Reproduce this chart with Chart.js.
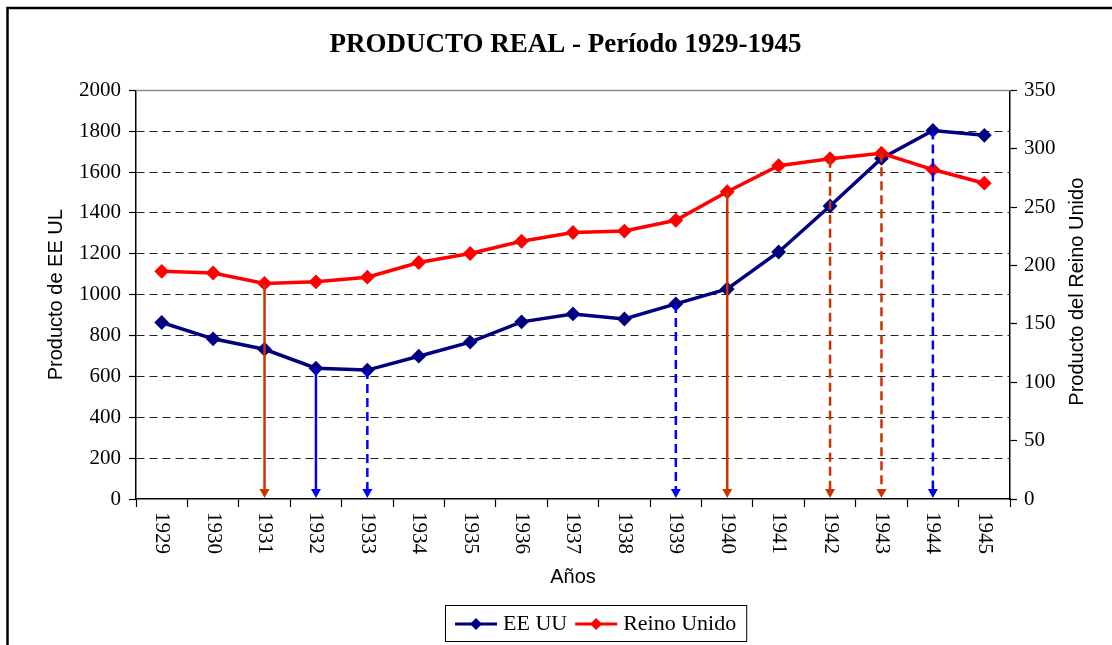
<!DOCTYPE html>
<html>
<head>
<meta charset="utf-8">
<script src="https://cdn.jsdelivr.net/npm/chart.js@4.4.1/dist/chart.umd.min.js"></script>
<style>
html, body { margin: 0; padding: 0; background: #fff; }
#wrap { width: 1112px; height: 645px; }
</style>
</head>
<body>
<div id="wrap"><canvas id="grafico" width="1112" height="645"></canvas></div>
<script>
var anios = ['1929','1930','1931','1932','1933','1934','1935','1936','1937','1938','1939','1940','1941','1942','1943','1944','1945'];
var productoEEUU = [864, 784, 733, 640, 631, 699, 768, 867, 906, 881, 955, 1028, 1209, 1434, 1667, 1804, 1780];
var productoReinoUnido = [195, 193.6, 184.7, 186, 190, 202.6, 210.3, 220.8, 228.3, 229.5, 238.8, 263.2, 285.5, 291.5, 296.2, 282.2, 270.5];

// flechas: [año, punteada]
var flechasEEUU = [['1932', false], ['1933', true], ['1939', true], ['1944', true]];
var flechasReinoUnido = [['1931', false], ['1940', false], ['1942', true], ['1943', true]];

var serif = 'Liberation Serif';
var sans = 'Liberation Sans';

function dibujarFlecha(ctx, x, y0, y1, color, punteada) {
  ctx.save();
  ctx.strokeStyle = color;
  ctx.fillStyle = color;
  ctx.lineWidth = 2.5;
  ctx.setLineDash(punteada ? [9, 5] : []);
  ctx.beginPath();
  ctx.moveTo(x, y0);
  ctx.lineTo(x, y1 - 8);
  ctx.stroke();
  ctx.setLineDash([]);
  ctx.beginPath();
  ctx.moveTo(x - 5, y1 - 10);
  ctx.lineTo(x + 5, y1 - 10);
  ctx.lineTo(x, y1 - 1);
  ctx.closePath();
  ctx.fill();
  ctx.restore();
}

// fondo y marco
var marcoPlugin = {
  id: 'marco',
  beforeDraw: function(chart) {
    var ctx = chart.ctx;
    ctx.save();
    ctx.fillStyle = '#fff';
    ctx.fillRect(0, 0, chart.width, chart.height);
    ctx.strokeStyle = '#000';
    ctx.lineWidth = 2.5;
    ctx.beginPath();
    ctx.moveTo(7.5, chart.height);
    ctx.lineTo(7.5, 8);
    ctx.lineTo(chart.width, 8);
    ctx.stroke();
    ctx.restore();
  },
  beforeDatasetsDraw: function(chart) {
    var a = chart.chartArea, ctx = chart.ctx;
    ctx.save();
    ctx.strokeStyle = '#8a8a8a';
    ctx.lineWidth = 1.5;
    ctx.beginPath();
    ctx.moveTo(a.left, a.top);
    ctx.lineTo(a.right, a.top);
    ctx.stroke();
    ctx.restore();
  }
};

// flechas verticales hacia el eje
var flechasPlugin = {
  id: 'flechas',
  afterDatasetsDraw: function(chart) {
    var ctx = chart.ctx, a = chart.chartArea;
    var x = chart.scales.x, y = chart.scales.y, y1 = chart.scales.y1;
    flechasReinoUnido.forEach(function(f) {
      var i = anios.indexOf(f[0]);
      dibujarFlecha(ctx, x.getPixelForValue(i), y1.getPixelForValue(productoReinoUnido[i]), a.bottom, '#cc3300', f[1]);
    });
    flechasEEUU.forEach(function(f) {
      var i = anios.indexOf(f[0]);
      dibujarFlecha(ctx, x.getPixelForValue(i), y.getPixelForValue(productoEEUU[i]), a.bottom, '#0000ff', f[1]);
    });
  }
};

// etiquetas de años giradas, titulo derecho y leyenda
var textosPlugin = {
  id: 'textos',
  afterDraw: function(chart) {
    var ctx = chart.ctx, a = chart.chartArea;
    var x = chart.scales.x;
    ctx.save();
    ctx.fillStyle = '#000';
    ctx.font = '21px "' + serif + '"';
    ctx.textAlign = 'left';
    ctx.textBaseline = 'middle';
    anios.forEach(function(lab, i) {
      ctx.save();
      ctx.translate(x.getPixelForValue(i), a.bottom + 13);
      ctx.rotate(Math.PI / 2);
      ctx.fillText(lab, 0, 0);
      ctx.restore();
    });

    // titulo eje derecho
    ctx.save();
    ctx.font = '20px "' + sans + '"';
    ctx.textAlign = 'center';
    ctx.textBaseline = 'middle';
    ctx.translate(chart.scales.y1.right - 14, (a.top + a.bottom) / 2 - 3);
    ctx.rotate(-Math.PI / 2);
    ctx.fillText('Producto del Reino Unido', 0, 0);
    ctx.restore();

    // leyenda
    var items = [
      { texto: 'EE UU', color: '#000080' },
      { texto: 'Reino Unido', color: '#ff0000' }
    ];
    ctx.font = '22px "' + serif + '"';
    var total = 12;
    items.forEach(function(it) { total += 42 + 6 + ctx.measureText(it.texto).width + 8; });
    var bx = 445, by = 605, bh = 36;
    ctx.strokeStyle = '#000';
    ctx.lineWidth = 1;
    ctx.strokeRect(bx + 0.5, by + 0.5, total, bh);
    var cx = bx + 10, cy = by + bh / 2 + 1;
    items.forEach(function(it) {
      ctx.strokeStyle = it.color;
      ctx.fillStyle = it.color;
      ctx.lineWidth = 3;
      ctx.beginPath();
      ctx.moveTo(cx, cy);
      ctx.lineTo(cx + 42, cy);
      ctx.stroke();
      ctx.beginPath();
      ctx.moveTo(cx + 21 - 6, cy);
      ctx.lineTo(cx + 21, cy - 6);
      ctx.lineTo(cx + 21 + 6, cy);
      ctx.lineTo(cx + 21, cy + 6);
      ctx.closePath();
      ctx.fill();
      ctx.fillStyle = '#000';
      ctx.textAlign = 'left';
      ctx.textBaseline = 'middle';
      ctx.fillText(it.texto, cx + 48, cy);
      cx += 48 + ctx.measureText(it.texto).width + 8;
    });
    ctx.restore();
  }
};

new Chart(document.getElementById('grafico'), {
  type: 'line',
  data: {
    labels: anios,
    datasets: [
      {
        label: 'EE UU',
        data: productoEEUU,
        yAxisID: 'y',
        borderColor: '#000080',
        backgroundColor: '#000080',
        borderWidth: 3.5,
        pointStyle: 'rectRot',
        pointRadius: 6,
        pointBorderWidth: 2,
        tension: 0,
        order: 1
      },
      {
        label: 'Reino Unido',
        data: productoReinoUnido,
        yAxisID: 'y1',
        borderColor: '#ff0000',
        backgroundColor: '#ff0000',
        borderWidth: 3.5,
        pointStyle: 'rectRot',
        pointRadius: 6,
        pointBorderWidth: 2,
        tension: 0,
        order: 0
      }
    ]
  },
  options: {
    responsive: false,
    animation: false,
    layout: { padding: { top: 0, left: 40, right: 21, bottom: 54 } },
    plugins: {
      legend: { display: false },
      tooltip: { enabled: false },
      title: {
        display: true,
        text: 'PRODUCTO REAL - Período 1929-1945',
        color: '#000',
        font: { family: serif, size: 27, weight: 'bold' },
        padding: { top: 29, bottom: 29 }
      }
    },
    scales: {
      x: {
        type: 'category',
        offset: true,
        grid: { offset: true, drawOnChartArea: false, drawTicks: true, tickLength: 8, color: '#000', tickColor: '#000', tickWidth: 1.2 },
        border: { color: '#000', width: 1.5 },
        ticks: { display: false },
        title: { display: true, text: 'Años', color: '#000', font: { family: sans, size: 20 }, padding: { top: 4, bottom: 2 } },
        afterFit: function(s) { s.height = 92; }
      },
      y: {
        position: 'left',
        min: 0,
        max: 2000,
        ticks: {
          stepSize: 200,
          color: '#000',
          font: { family: serif, size: 21 },
          padding: 8,
          callback: function(v) { return String(v); }
        },
        grid: {
          color: function(c) { return (c.tick && (c.tick.value === 0 || c.tick.value === 2000)) ? 'rgba(0,0,0,0)' : '#222'; },
          lineWidth: 1,
          tickLength: 7,
          tickColor: '#000',
          tickWidth: 1.2
        },
        border: { color: '#000', width: 1.5, dash: [8, 5] },
        title: { display: true, text: 'Producto de EE UL', color: '#000', font: { family: sans, size: 20 }, padding: { top: 4, bottom: 4 } },
        afterFit: function(s) { s.width = 96; }
      },
      y1: {
        position: 'right',
        min: 0,
        max: 350,
        ticks: { stepSize: 50, color: '#000', font: { family: serif, size: 21 }, padding: 7 },
        grid: { drawOnChartArea: false, tickLength: 7, tickColor: '#000', tickWidth: 1.2 },
        border: { color: '#000', width: 1.5 },
        afterFit: function(s) { s.width = 81; }
      }
    }
  },
  plugins: [marcoPlugin, flechasPlugin, textosPlugin]
});
</script>
</body>
</html>
